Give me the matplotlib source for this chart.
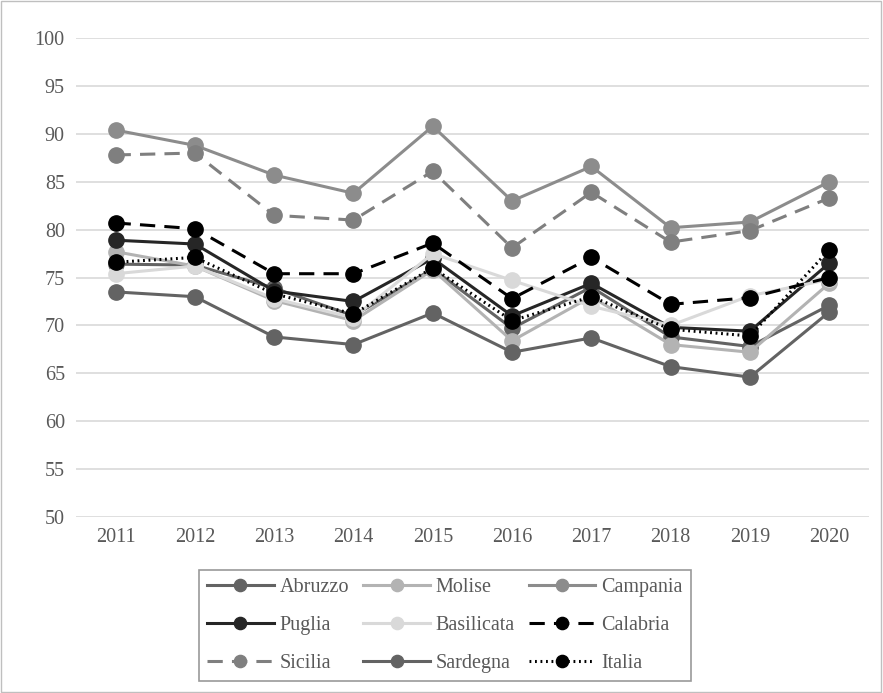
import matplotlib
matplotlib.use("Agg")
import matplotlib.pyplot as plt
from matplotlib.patches import Rectangle

years = ["2011", "2012", "2013", "2014", "2015", "2016", "2017", "2018", "2019", "2020"]
abruzzo    = [76.4, 76.3, 73.9, 71.0, 75.9, 69.7, 74.0, 68.8, 67.8, 72.1]
molise     = [77.7, 76.2, 72.6, 70.5, 75.8, 68.4, 73.0, 68.0, 67.2, 74.4]
campania   = [90.4, 88.8, 85.7, 83.8, 90.8, 83.0, 86.6, 80.2, 80.8, 85.0]
puglia     = [78.9, 78.5, 73.6, 72.5, 77.0, 71.0, 74.4, 69.8, 69.4, 76.5]
basilicata = [75.4, 76.2, 72.8, 70.8, 77.5, 74.7, 72.0, 70.0, 73.1, 74.8]
calabria   = [80.7, 80.1, 75.4, 75.4, 78.6, 72.8, 77.1, 72.2, 72.9, 75.0]
sicilia    = [87.8, 88.0, 81.5, 81.0, 86.1, 78.1, 83.9, 78.7, 79.9, 83.3]
sardegna   = [73.5, 73.0, 68.8, 68.0, 71.3, 67.2, 68.7, 65.7, 64.6, 71.4]
italia     = [76.6, 77.1, 73.3, 71.2, 76.0, 70.5, 73.0, 69.6, 68.9, 77.9]
yticks = [50, 55, 60, 65, 70, 75, 80, 85, 90, 95, 100]

plt.rcParams['font.family'] = ['Liberation Serif', 'DejaVu Serif']

fig = plt.figure(figsize=(8.83, 6.93), dpi=100)
ax = fig.add_axes([0.086, 0.254, 0.898, 0.691])

series = [
    ("Abruzzo", abruzzo, "#636363", "-"),
    ("Molise", molise, "#b3b3b3", "-"),
    ("Campania", campania, "#8c8c8c", "-"),
    ("Puglia", puglia, "#262626", "-"),
    ("Basilicata", basilicata, "#d9d9d9", "-"),
    ("Calabria", calabria, "#000000", (0, (5, 3))),
    ("Sicilia", sicilia, "#7f7f7f", (0, (5, 3))),
    ("Sardegna", sardegna, "#636363", "-"),
    ("Italia", italia, "#000000", (0, (0.6, 1.2))),
]
x = list(range(len(years)))
handles = []
for name, vals, col, ls in series:
    h, = ax.plot(x, vals, color=col, linestyle=ls, linewidth=2.2, marker='o',
                 markersize=11, markerfacecolor=col, markeredgecolor=col, label=name)
    handles.append(h)

ax.set_xlim(-0.5, len(years) - 0.5)
ax.set_ylim(50, 100)
ax.set_yticks(yticks)
ax.set_xticks(x)
ax.set_xticklabels(years)
ax.grid(axis='y', color='#d9d9d9', linewidth=1.2)
ax.set_axisbelow(True)
for s in ax.spines.values():
    s.set_visible(False)
ax.tick_params(length=0, labelsize=14.5, colors='#595959')
ax.tick_params(axis='x', pad=8)
ax.tick_params(axis='y', pad=8)

# row-wise ordering for a 3-column legend
order = [0, 3, 6, 1, 4, 7, 2, 5, 8]
hs = [handles[i] for i in order]
leg = fig.legend(hs, [h.get_label() for h in hs], loc='center',
                 bbox_to_anchor=(0.504, 0.0975), ncol=3,
                 fontsize=14.5, frameon=True, fancybox=False, markerscale=0.8,
                 handlelength=3.3, columnspacing=0.7, handletextpad=0.3,
                 labelspacing=0.92, borderpad=0.4, borderaxespad=0)
leg.get_frame().set_edgecolor('#808080')
leg.get_frame().set_linewidth(1.2)
for t in leg.get_texts():
    t.set_color('#595959')

fig.patches.append(Rectangle((0.001, 0.001), 0.997, 0.997, transform=fig.transFigure,
                             fill=False, edgecolor='#bfbfbf', linewidth=1))

fig.savefig("out.png", dpi=100, facecolor='white')
